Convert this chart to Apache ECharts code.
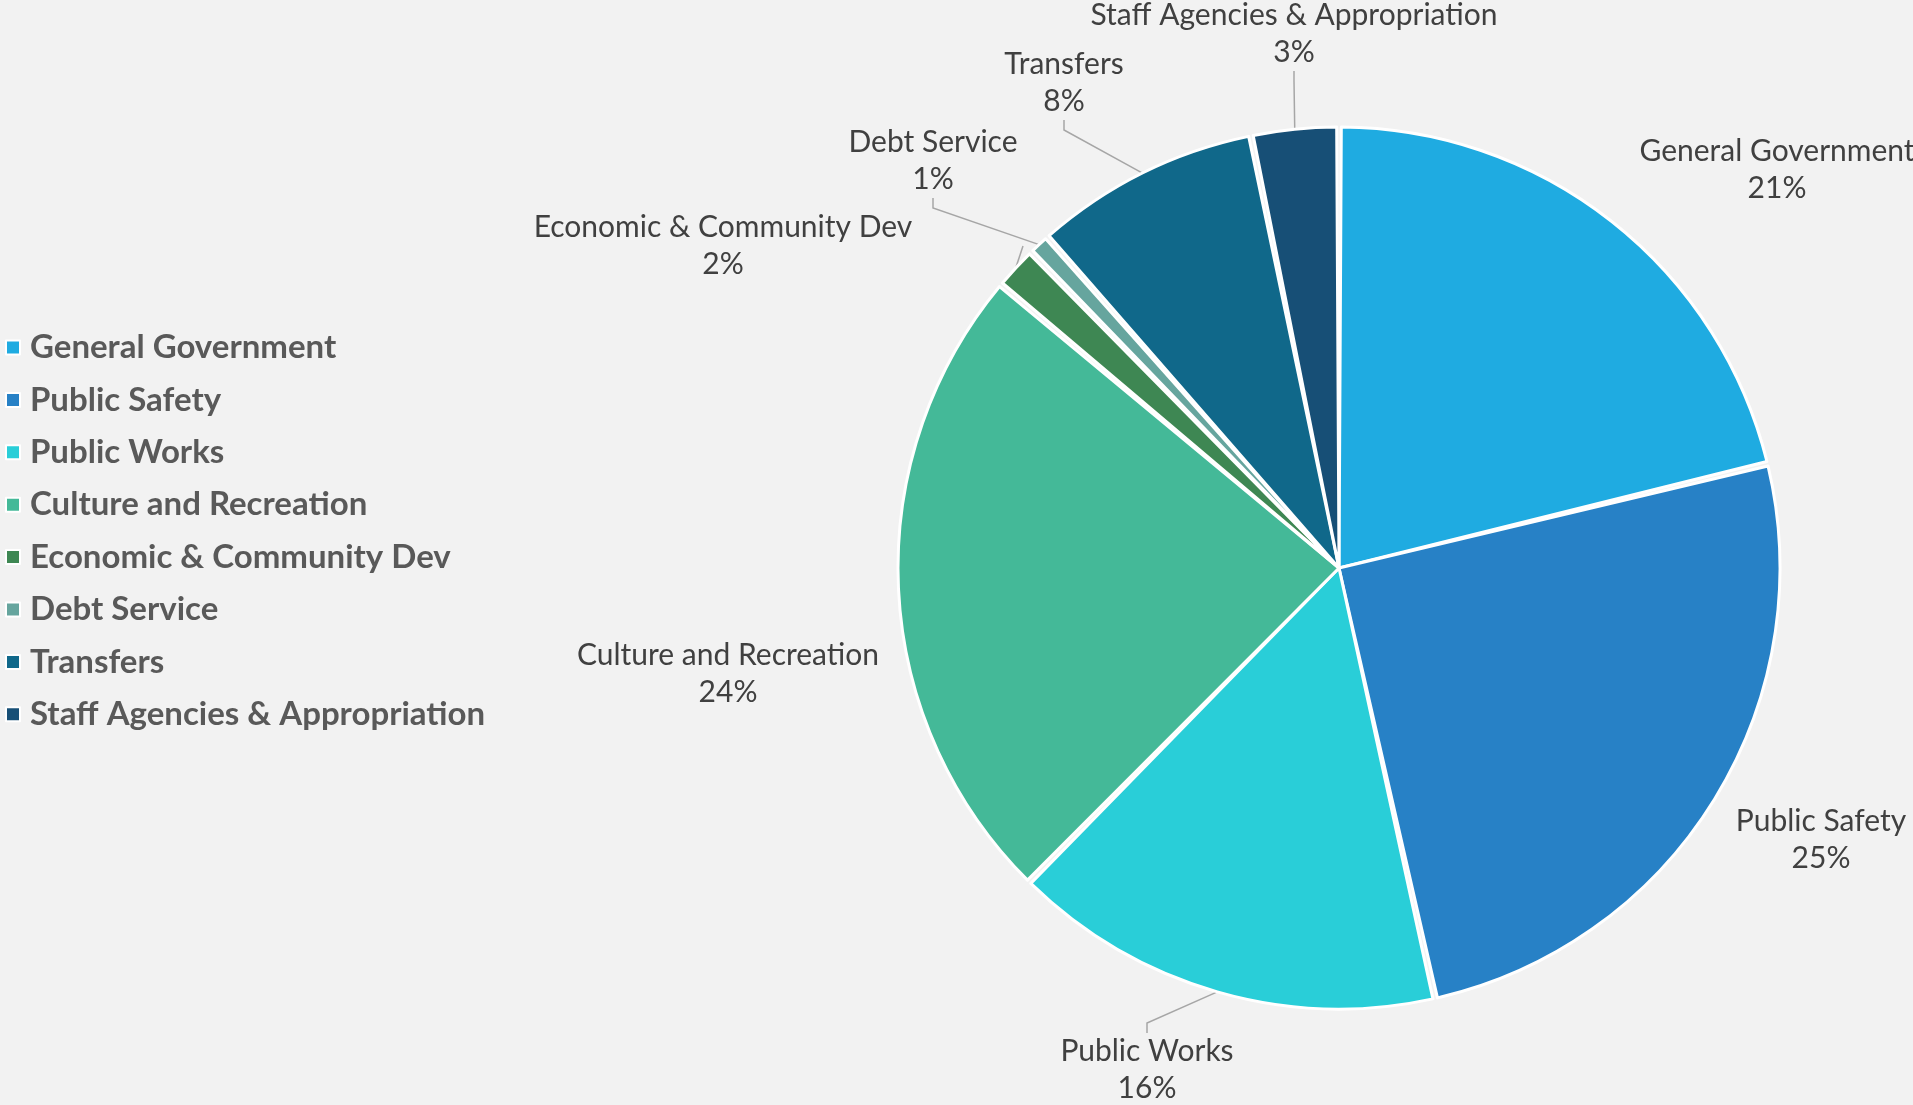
<!DOCTYPE html>
<html>
<head>
<meta charset="utf-8">
<script src="https://cdn.jsdelivr.net/npm/echarts@6/dist/echarts.min.js"></script>
<style>
html,body{margin:0;padding:0;background:#f2f2f2;}
#chart{width:1913px;height:1105px;}
</style>
</head>
<body>
<div id="chart"></div>
<script>
// Data
const categories = ["General Government","Public Safety","Public Works","Culture and Recreation","Economic & Community Dev","Debt Service","Transfers","Staff Agencies & Appropriation"];
const shares = [21.2, 25.3, 15.9, 23.7, 1.6, 0.8, 8.3, 3.2];
const colors = ["#1fabe1","#2781c6","#29ced8","#44b998","#3e8753","#66a59e","#10688a","#174f76"];

// label placement (label centers, px) and whether a leader line is drawn
const labelSpots = [[1777,170],[1821,840],[1147,1070],[728,674],[723,246],[933,161],[1064,83],[1294,34]];
const leaderShown = [false, false, true, true, true, true, true, true];

const chart = echarts.init(document.getElementById('chart'));
chart.setOption({
  backgroundColor: '#f2f2f2',
  animation: false,
  legend: {
    orient: 'vertical',
    left: 0,
    top: 326,
    icon: 'rect',
    itemWidth: 14,
    itemHeight: 14,
    itemGap: 19.4,
    selectedMode: false,
    itemStyle: { borderColor: '#ffffff', borderWidth: 2 },
    textStyle: { fontFamily: 'Lato', fontWeight: 'bold', fontSize: 33, lineHeight: 30, color: '#595959', padding: [0,0,0,5] },
    data: categories
  },
  series: [{
    type: 'pie',
    center: [1339, 568],
    radius: [0, 441],
    startAngle: 90,
    clockwise: true,
    padAngle: 0.6,
    emphasis: { disabled: true },
    itemStyle: { borderColor: '#ffffff', borderWidth: 3 },
    label: {
      show: true,
      position: 'outside',
      overflow: 'none',
      width: 600,
      fontFamily: 'Lato',
      fontSize: 30,
      lineHeight: 37,
      color: '#404040',
      formatter: p => p.name + '\n' + Math.round(p.value) + '%'
    },
    labelLine: { show: true, lineStyle: { color: '#a6a6a6', width: 1.5 }, length: 20, length2: 10 },
    labelLayout: function (params) {
      const s = labelSpots[params.dataIndex];
      return { x: s[0], y: s[1], align: 'center', verticalAlign: 'middle' };
    },
    data: categories.map((c, i) => ({ name: c, value: shares[i], itemStyle: { color: colors[i] }, labelLine: { show: leaderShown[i] } }))
  }]
});
</script>
</body>
</html>
